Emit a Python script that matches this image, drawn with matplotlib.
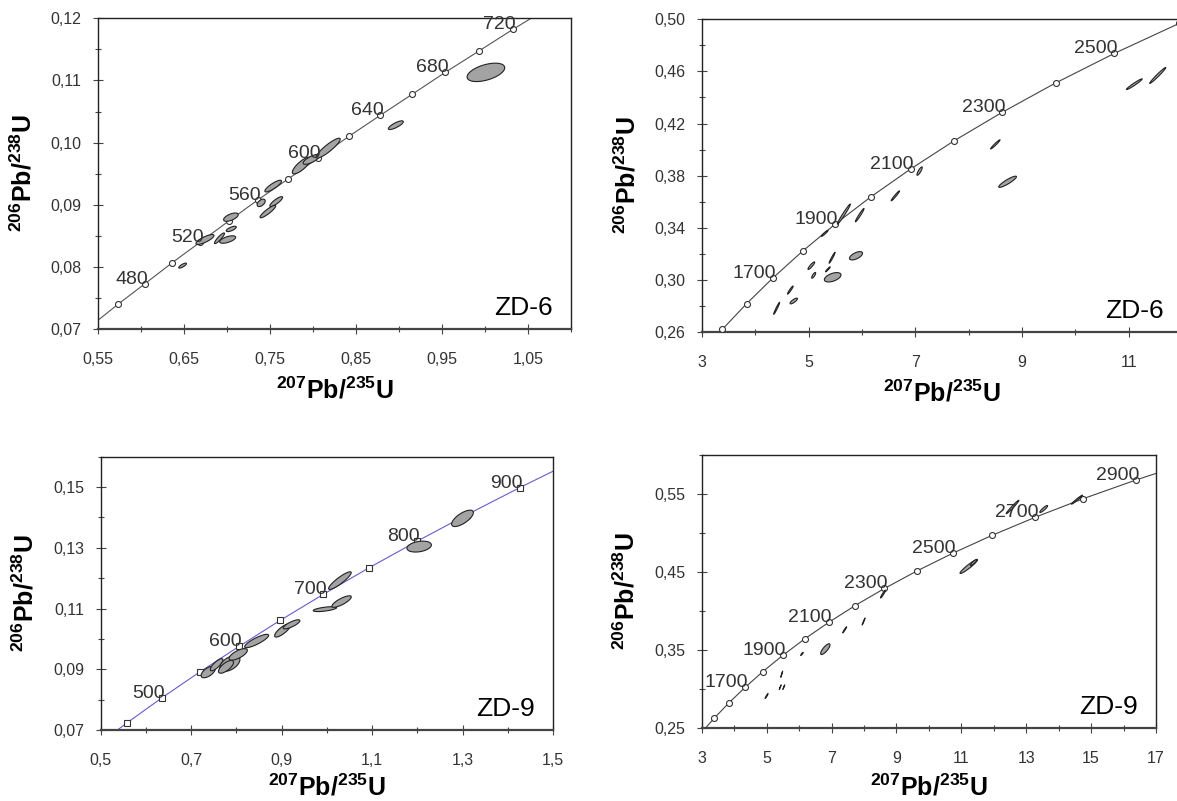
'''Four U-Pb concordia diagrams (ZD-6 and ZD-9 zircons).'''
import numpy as np
import matplotlib
matplotlib.use('Agg')
from matplotlib import pyplot as plt
from matplotlib.ticker import FixedLocator, FuncFormatter

plt.rcParams['font.family'] = 'Liberation Sans'
plt.rcParams['mathtext.fontset'] = 'custom'
plt.rcParams['mathtext.rm'] = 'Liberation Sans'
plt.rcParams['mathtext.bf'] = 'Liberation Sans:bold'


# ---- ZD-6, young group (top left) ----
c1_age = [440, 460, 480, 500, 520, 540, 560, 580, 600, 620, 640, 660, 680, 700, 720, 740]
c1_x = [0.5424, 0.5731, 0.6044, 0.6363, 0.6688, 0.7020, 0.7359, 0.7704, 0.8056, 0.8415,
        0.8782, 0.9155, 0.9537, 0.9925, 1.0322, 1.0726]
c1_y = [0.0706, 0.0740, 0.0773, 0.0807, 0.0840, 0.0874, 0.0908, 0.0941, 0.0975, 0.1010,
        0.1044, 0.1078, 0.1113, 0.1147, 0.1182, 0.1216]
c1_labels = [480, 520, 560, 600, 640, 680, 720]
e1_x = [0.6481, 0.6741, 0.6910, 0.7005, 0.7047, 0.7043, 0.7395, 0.7535, 0.7570, 0.7473,
        0.7865, 0.7980, 0.8175, 0.8962, 1.0010]
e1_y = [0.0802, 0.0844, 0.0846, 0.0844, 0.0861, 0.0880, 0.0903, 0.0930, 0.0905, 0.0889,
        0.0963, 0.0973, 0.0991, 0.1028, 0.1113]
e1_sx = [0.0045, 0.0105, 0.0058, 0.0093, 0.0058, 0.0085, 0.0047, 0.0097, 0.0074, 0.0091,
         0.0107, 0.0097, 0.0140, 0.0087, 0.0219]
e1_sy = [0.0004, 0.0008, 0.00086, 0.0006, 0.00043, 0.00067, 0.0006, 0.00094, 0.0008, 0.0010,
         0.00134, 0.0008, 0.0016, 0.0007, 0.00148]
e1_rho = [0.8, 0.8, 0.9, 0.6, 0.7, 0.6, 0.5, 0.85, 0.85, 0.9, 0.8, 0.75, 0.9, 0.8, 0.5]

# ---- ZD-6, old group (top right) ----
c2_age = [1400, 1500, 1600, 1700, 1800, 1900, 2000, 2100, 2200, 2300, 2400, 2500, 2600, 2700]
c2_x = [2.970, 3.381, 3.835, 4.335, 4.887, 5.497, 6.168, 6.911, 7.729, 8.632, 9.629, 10.730,
        11.944, 13.284]
c2_y = [0.2426, 0.2620, 0.2817, 0.3017, 0.3221, 0.3428, 0.3638, 0.3851, 0.4068, 0.4287,
        0.4511, 0.4738, 0.4968, 0.5202]
c2_labels = [1700, 1900, 2100, 2300, 2500]
e2_x = [4.40, 4.656, 4.72, 5.05, 5.094, 5.30, 5.44, 5.36, 5.45, 5.66, 5.957, 5.888, 6.625,
        7.08, 8.50, 8.73, 11.106, 11.545]
e2_y = [0.2782, 0.2922, 0.2838, 0.3109, 0.3035, 0.3357, 0.3170, 0.3081, 0.3020, 0.3505,
        0.3497, 0.3185, 0.3645, 0.3835, 0.4040, 0.3753, 0.4502, 0.4569]
e2_sx = [0.056, 0.053, 0.069, 0.063, 0.0375, 0.063, 0.056, 0.044, 0.156, 0.122, 0.081, 0.122,
         0.078, 0.05, 0.088, 0.166, 0.147, 0.15]
e2_sy = [0.0046, 0.0031, 0.0022, 0.0029, 0.0022, 0.0023, 0.0042, 0.0019, 0.0036, 0.0077,
         0.0051, 0.0032, 0.0038, 0.0032, 0.0035, 0.0043, 0.0041, 0.0061]
e2_rho = [0.97, 0.95, 0.8, 0.9, 0.8, 0.95, 0.97, 0.95, 0.5, 0.98, 0.97, 0.6, 0.97, 0.85,
          0.97, 0.9, 0.97, 0.98]

# ---- ZD-9, young group (bottom left) ----
c3_age = [400, 450, 500, 550, 600, 650, 700, 750, 800, 850, 900, 950]
c3_x = [0.4828, 0.5577, 0.6363, 0.7189, 0.8056, 0.8968, 0.9925, 1.0930, 1.1987, 1.3097,
        1.4263, 1.5488]
c3_y = [0.0640, 0.0723, 0.0807, 0.0891, 0.0975, 0.1061, 0.1147, 0.1234, 0.1321, 0.1409,
        0.1498, 0.1588]
c3_labels = [500, 600, 700, 800, 900]
e3_x = [0.7378, 0.7563, 0.7857, 0.7770, 0.8040, 0.8448, 0.9022, 0.9220, 1.0289, 0.9957,
        1.0326, 1.2041, 1.2999]
e3_y = [0.0891, 0.0915, 0.0919, 0.0908, 0.0949, 0.0993, 0.1028, 0.1048, 0.1192, 0.1098,
        0.1123, 0.1304, 0.1397]
e3_sx = [0.0158, 0.014, 0.0221, 0.0166, 0.0202, 0.0265, 0.0177, 0.0184, 0.025, 0.0258,
         0.0214, 0.027, 0.024]
e3_sy = [0.0019, 0.002, 0.0026, 0.0021, 0.0019, 0.0022, 0.0022, 0.0015, 0.0029, 0.0008,
         0.0019, 0.0018, 0.0027]
e3_rho = [0.6, 0.8, 0.5, 0.7, 0.7, 0.85, 0.8, 0.8, 0.9, 0.6, 0.8, 0.3, 0.7]

# ---- ZD-9, old group (bottom right) ----
c4_age = [1400, 1500, 1600, 1700, 1800, 1900, 2000, 2100, 2200, 2300, 2400, 2500, 2600,
          2700, 2800, 2900, 3000]
c4_x = [2.970, 3.381, 3.835, 4.335, 4.887, 5.497, 6.168, 6.911, 7.729, 8.632, 9.629, 10.730,
        11.944, 13.284, 14.762, 16.394, 18.193]
c4_y = [0.2426, 0.2620, 0.2817, 0.3017, 0.3221, 0.3428, 0.3638, 0.3851, 0.4068, 0.4287,
        0.4511, 0.4738, 0.4968, 0.5202, 0.5440, 0.5681, 0.5926]
c4_labels = [1700, 1900, 2100, 2300, 2500, 2700, 2900]
e4_x = [5.00, 5.42, 5.53, 5.465, 6.09, 6.81, 7.406, 7.99, 8.587, 11.23, 11.38, 12.58, 13.54,
        14.565]
e4_y = [0.2907, 0.3020, 0.3020, 0.3186, 0.3447, 0.3508, 0.3756, 0.3863, 0.4215, 0.4569,
        0.4620, 0.5333, 0.5307, 0.5427]
e4_sx = [0.046, 0.03, 0.03, 0.03, 0.04, 0.144, 0.062, 0.046, 0.077, 0.27, 0.10, 0.195, 0.12,
         0.17]
e4_sy = [0.0032, 0.003, 0.003, 0.004, 0.002, 0.0069, 0.0039, 0.0045, 0.005, 0.009, 0.004,
         0.0086, 0.0045, 0.0058]
e4_rho = [0.95, 0.98, 0.98, 0.98, 0.9, 0.8, 0.97, 0.98, 0.95, 0.95, 0.9, 0.98, 0.9, 0.98]

# axis ticks
t1_x, t1_xm = [0.55, 0.65, 0.75, 0.85, 0.95, 1.05], [0.60, 0.70, 0.80, 0.90, 1.00, 1.10]
t1_y, t1_ym = [0.07, 0.08, 0.09, 0.10, 0.11, 0.12], [0.075, 0.085, 0.095, 0.105, 0.115]
t2_x, t2_xm = [3, 5, 7, 9, 11], [4, 6, 8, 10, 12]
t2_y, t2_ym = [0.26, 0.30, 0.34, 0.38, 0.42, 0.46, 0.50], [0.28, 0.32, 0.36, 0.40, 0.44, 0.48]
t3_x, t3_xm = [0.5, 0.7, 0.9, 1.1, 1.3, 1.5], [0.6, 0.8, 1.0, 1.2, 1.4]
t3_y, t3_ym = [0.07, 0.09, 0.11, 0.13, 0.15], [0.08, 0.10, 0.12, 0.14, 0.16]
t4_x, t4_xm = [3, 5, 7, 9, 11, 13, 15, 17], [4, 6, 8, 10, 12, 14, 16]
t4_y, t4_ym = [0.25, 0.35, 0.45, 0.55], [0.30, 0.40, 0.50, 0.60]

XLABEL = r'${}^{\mathbf{207}}\mathbf{Pb/}{}^{\mathbf{235}}\mathbf{U}$'
YLABEL = r'${}^{\mathbf{206}}\mathbf{Pb/}{}^{\mathbf{238}}\mathbf{U}$'

W, H = 1177, 801
fig = plt.figure(figsize=(W / 100, H / 100), dpi=100)


def comma(decimals):
    return FuncFormatter(lambda v, p: f'{v:.{decimals}f}'.replace('.', ','))


def panel(rect_px, xlim, ylim, cx, cy, ages, labels, ex, ey, sx, sy, rho,
          xt, xtm, yt, ytm, xdec, ydec, sample, line_color, marker, xlab_gap=48):
    left, top, right, bottom = rect_px
    ax = fig.add_axes([left / W, (H - bottom) / H, (right - left) / W, (bottom - top) / H])
    ax.set_xlim(*xlim)
    ax.set_ylim(*ylim)

    # concordia curve + age markers
    ax.plot(cx, cy, '-', color=line_color, lw=0.8, zorder=2)
    ax.plot(cx, cy, linestyle='none', marker=marker, ms=4.3, mfc='white',
            mec='#333333', mew=0.8, zorder=3)
    for age, x, y in zip(ages, cx, cy):
        if age in labels:
            ax.annotate(str(age), (x, y), xytext=(3, 0), textcoords='offset pixels',
                        ha='right', va='baseline', fontsize=14, color='#333333', zorder=5)

    # error ellipses
    t = np.linspace(0, 2 * np.pi, 80)
    for x0, y0, a, b, r in zip(ex, ey, sx, sy, rho):
        px = x0 + a * np.cos(t)
        py = y0 + b * (r * np.cos(t) + np.sqrt(1 - r * r) * np.sin(t))
        ax.fill(px, py, facecolor='#a3a3a3', edgecolor='#222222', lw=0.8, zorder=4)

    ax.annotate(sample, xy=(1, 0), xycoords='axes fraction', xytext=(-18, 14),
                textcoords='offset pixels', ha='right', va='baseline', fontsize=19)

    ax.xaxis.set_major_locator(FixedLocator(xt))
    ax.xaxis.set_minor_locator(FixedLocator(xtm))
    ax.yaxis.set_major_locator(FixedLocator(yt))
    ax.yaxis.set_minor_locator(FixedLocator(ytm))
    ax.xaxis.set_major_formatter(comma(xdec))
    ax.yaxis.set_major_formatter(comma(ydec))
    ax.tick_params(which='both', direction='inout', colors='#444444', labelcolor='#333333',
                   labelsize=11.5, width=0.8)
    ax.tick_params(which='major', length=7)
    ax.tick_params(which='minor', length=5)
    ax.tick_params(axis='x', pad=13)
    ax.tick_params(axis='y', pad=8.5)

    for s in ('top', 'right', 'left'):
        ax.spines[s].set_linewidth(1.0)
        ax.spines[s].set_color('#222222')
    ax.spines['bottom'].set_linewidth(1.6)
    ax.spines['bottom'].set_color('#444444')

    w_px, h_px = right - left, bottom - top
    ax.set_xlabel(XLABEL, fontsize=18)
    ax.xaxis.set_label_coords(0.5, -xlab_gap / h_px)
    ax.set_ylabel(YLABEL, fontsize=18)
    ax.yaxis.set_label_coords(-62 / w_px, 0.5)
    return ax


panel((98.3, 18.3, 571, 329), (0.55, 1.10), (0.07, 0.12), c1_x, c1_y, c1_age, c1_labels,
      e1_x, e1_y, e1_sx, e1_sy, e1_rho, t1_x, t1_xm, t1_y, t1_ym, 2, 2, 'ZD-6', '#555555', 'o')
panel((702, 19.3, 1182, 332), (3, 12), (0.26, 0.50), c2_x, c2_y, c2_age, c2_labels,
      e2_x, e2_y, e2_sx, e2_sy, e2_rho, t2_x, t2_xm, t2_y, t2_ym, 0, 2, 'ZD-6', '#444444', 'o')
panel((100.7, 456.7, 553, 730), (0.5, 1.5), (0.07, 0.16), c3_x, c3_y, c3_age, c3_labels,
      e3_x, e3_y, e3_sx, e3_sy, e3_rho, t3_x, t3_xm, t3_y, t3_ym, 1, 2, 'ZD-9', '#6a5acd', 's',
      xlab_gap=44)
panel((701.7, 455, 1156, 727.7), (3, 17), (0.25, 0.60), c4_x, c4_y, c4_age, c4_labels,
      e4_x, e4_y, e4_sx, e4_sy, e4_rho, t4_x, t4_xm, t4_y, t4_ym, 0, 2, 'ZD-9', '#444444', 'o',
      xlab_gap=46)

fig.savefig('out.png', dpi=100)
